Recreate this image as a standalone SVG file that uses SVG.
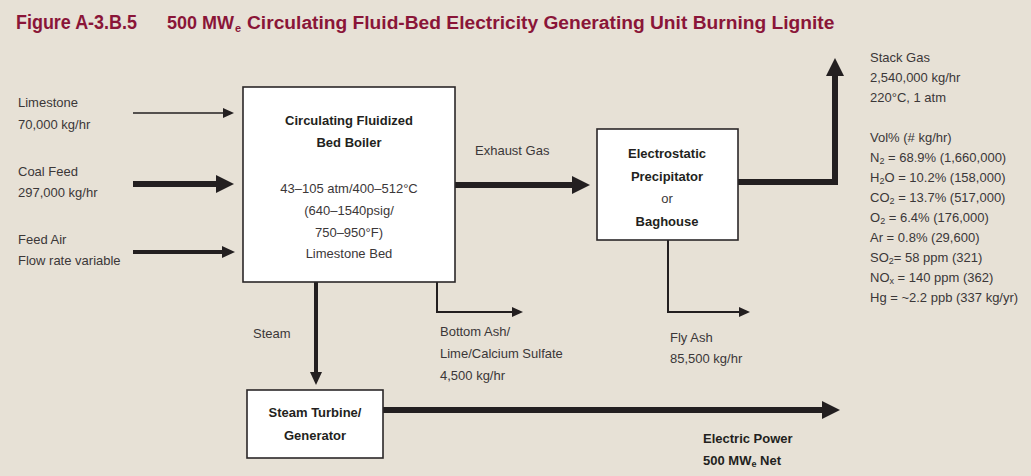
<svg xmlns="http://www.w3.org/2000/svg" width="1031" height="476" viewBox="0 0 1031 476">
<style>
text{font-family:"Liberation Sans",Arial,sans-serif;font-size:13px;fill:#3b3738}
.b{font-weight:bold;fill:#231f20}
.c{text-anchor:middle}
.title{font-family:"Liberation Sans",Arial,sans-serif;font-size:20px;font-weight:bold;fill:#8a1538}
.title.m{font-size:18px}
.title.r{font-size:19.2px}
.title.s{font-size:11px}
.box{fill:#fff;stroke:#2b2728;stroke-width:1.6}
.ln{fill:none;stroke:#231f20;stroke-linejoin:miter}
.sub{font-size:9px}
</style>
<defs>
<marker id="aThin" viewBox="0 0 11 10" refX="1" refY="5" markerWidth="11" markerHeight="10" markerUnits="userSpaceOnUse" orient="auto"><path d="M0,0 L11,5 L0,10 z" fill="#231f20"/></marker>
<marker id="aMed" viewBox="0 0 13 12" refX="1" refY="6" markerWidth="13" markerHeight="12" markerUnits="userSpaceOnUse" orient="auto"><path d="M0,0 L13,6 L0,12 z" fill="#231f20"/></marker>
<marker id="aThick" viewBox="0 0 18 18" refX="1" refY="9" markerWidth="18" markerHeight="18" markerUnits="userSpaceOnUse" orient="auto"><path d="M0,0 L18,9 L0,18 z" fill="#231f20"/></marker>
</defs>
<rect x="0" y="0" width="1031" height="476" fill="#e7e1d6"/>

<g id="title">
<text class="title" x="16" y="29" textLength="121" lengthAdjust="spacingAndGlyphs">Figure A-3.B.5</text>
<text class="title m" x="167" y="29">500 MW</text>
<text class="title s" x="235" y="32">e</text>
<text class="title r" x="247" y="29">Circulating Fluid-Bed Electricity Generating Unit Burning Lignite</text>
</g>

<g id="connectors">
<path class="ln" d="M133,113 H224" stroke-width="1.6" marker-end="url(#aThin)"/>
<path class="ln" d="M133,184 H217" stroke-width="6" marker-end="url(#aThick)"/>
<path class="ln" d="M133,252 H223" stroke-width="4" marker-end="url(#aMed)"/>
<path class="ln" d="M455,185 H573" stroke-width="6" marker-end="url(#aThick)"/>
<path class="ln" d="M738,182 H835 V75" stroke-width="6" marker-end="url(#aThick)"/>
<path class="ln" d="M316,282 V373" stroke-width="4" marker-end="url(#aMed)"/>
<path class="ln" d="M437,282 V312 H513" stroke-width="2" marker-end="url(#aThin)"/>
<path class="ln" d="M668,240 V312 H740" stroke-width="2" marker-end="url(#aThin)"/>
<path class="ln" d="M383,410 H823" stroke-width="6" marker-end="url(#aThick)"/>
</g>

<g id="inputs">
<text x="18" y="107">Limestone</text>
<text x="18" y="129">70,000 kg/hr</text>
<text x="18" y="176">Coal Feed</text>
<text x="18" y="197">297,000 kg/hr</text>
<text x="18" y="244">Feed Air</text>
<text x="18" y="265">Flow rate variable</text>
</g>

<g id="boiler">
<rect class="box" x="243" y="87" width="212" height="195"/>
<text class="b c" x="349" y="125">Circulating Fluidized</text>
<text class="b c" x="349" y="147">Bed Boiler</text>
<text class="c" x="349" y="193">43–105 atm/400–512°C</text>
<text class="c" x="349" y="215">(640–1540psig/</text>
<text class="c" x="349" y="237">750–950°F)</text>
<text class="c" x="349" y="258">Limestone Bed</text>
</g>

<g id="exhaust-label"><text x="475" y="155">Exhaust Gas</text></g>

<g id="precipitator">
<rect class="box" x="597" y="129" width="141" height="111"/>
<text class="b c" x="667" y="158">Electrostatic</text>
<text class="b c" x="667" y="181">Precipitator</text>
<text class="c" x="667" y="203">or</text>
<text class="b c" x="667" y="226">Baghouse</text>
</g>

<g id="stack-gas">
<text x="870" y="62">Stack Gas</text>
<text x="870" y="82">2,540,000 kg/hr</text>
<text x="870" y="102">220°C, 1 atm</text>
<text x="870" y="142">Vol% (# kg/hr)</text>
<text x="870" y="162">N<tspan class="sub" dy="2">2</tspan><tspan dy="-2"> = 68.9% (1,660,000)</tspan></text>
<text x="870" y="182">H<tspan class="sub" dy="2">2</tspan><tspan dy="-2">O = 10.2% (158,000)</tspan></text>
<text x="870" y="202">CO<tspan class="sub" dy="2">2</tspan><tspan dy="-2"> = 13.7% (517,000)</tspan></text>
<text x="870" y="222">O<tspan class="sub" dy="2">2</tspan><tspan dy="-2"> = 6.4% (176,000)</tspan></text>
<text x="870" y="242">Ar = 0.8% (29,600)</text>
<text x="870" y="262">SO<tspan class="sub" dy="2">2</tspan><tspan dy="-2">= 58 ppm (321)</tspan></text>
<text x="870" y="282">NO<tspan class="sub" dy="2">x</tspan><tspan dy="-2"> = 140 ppm (362)</tspan></text>
<text x="870" y="302">Hg = ~2.2 ppb (337 kg/yr)</text>
</g>

<g id="steam-label"><text x="253" y="338">Steam</text></g>

<g id="bottom-ash">
<text x="440" y="336">Bottom Ash/</text>
<text x="440" y="358">Lime/Calcium Sulfate</text>
<text x="440" y="380">4,500 kg/hr</text>
</g>

<g id="fly-ash">
<text x="670" y="342">Fly Ash</text>
<text x="670" y="363">85,500 kg/hr</text>
</g>

<g id="turbine">
<rect class="box" x="247" y="390" width="136" height="68"/>
<text class="b c" x="315" y="417">Steam Turbine/</text>
<text class="b c" x="315" y="440">Generator</text>
</g>

<g id="electric-power">
<text class="b" x="703" y="443">Electric Power</text>
<text class="b" x="703" y="465">500 MW<tspan class="sub" dy="2">e</tspan><tspan dy="-2"> Net</tspan></text>
</g>
</svg>
